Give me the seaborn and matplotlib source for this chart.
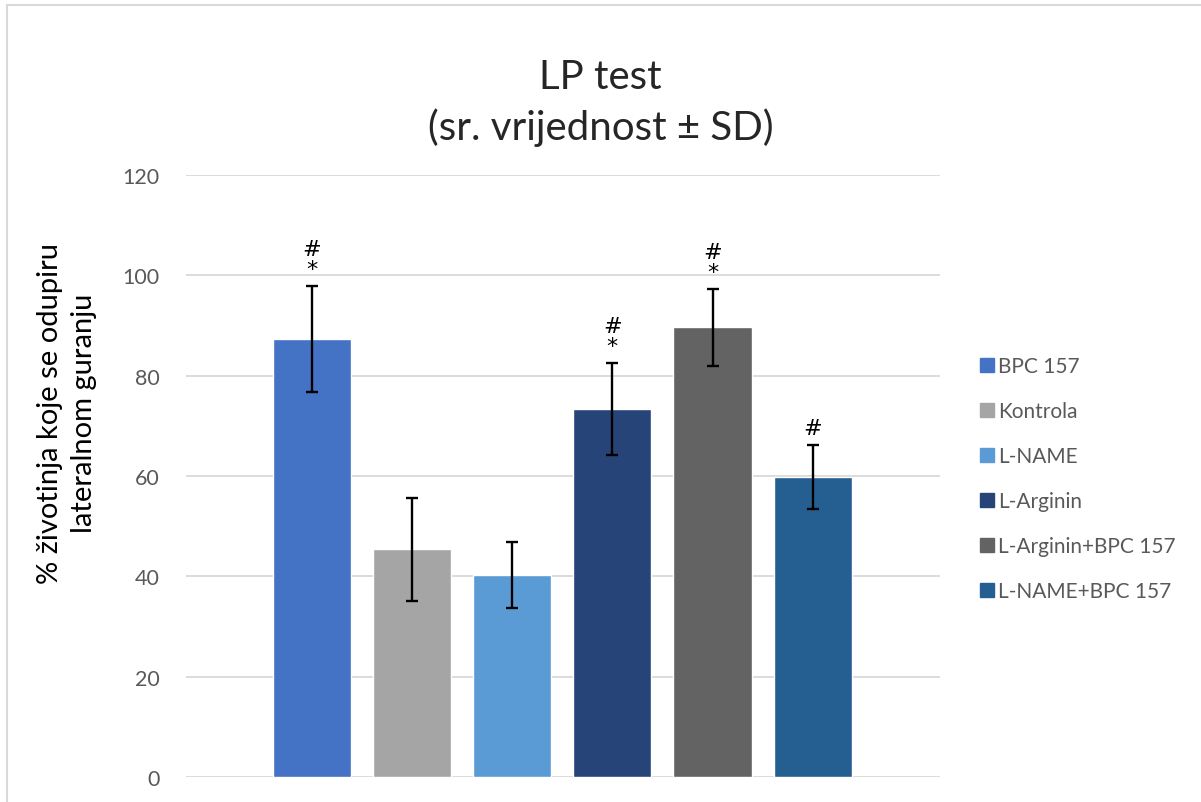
import matplotlib
matplotlib.use("Agg")
import matplotlib.pyplot as plt
import seaborn as sns
import pandas as pd
from matplotlib.lines import Line2D

# ── Data ──────────────────────────────────────────────────────────────────────
groups = ["BPC 157", "Kontrola", "L-NAME", "L-Arginin", "L-Arginin+BPC 157", "L-NAME+BPC 157"]
means = [87.3, 45.4, 40.3, 73.3, 89.6, 59.8]
sds = [10.6, 10.3, 6.6, 9.2, 7.6, 6.4]
marks = ["#\n*", "", "", "#\n*", "#\n*", "#"]
colors = ["#4472C4", "#A5A5A5", "#5B9BD5", "#264478", "#636363", "#255E91"]

df = pd.DataFrame({"grupa": groups, "vrijednost": means})

# ── Style ─────────────────────────────────────────────────────────────────────
sns.set_theme(style="white")
plt.rcParams["font.family"] = ["Lato", "DejaVu Sans"]

fig = plt.figure(figsize=(12.01, 8.03), dpi=100)
ax = fig.add_axes([0.155, 0.031, 0.628, 0.750])

sns.barplot(data=df, x="grupa", y="vrijednost", hue="grupa", palette=colors,
            width=0.78, dodge=False, saturation=1, legend=False, ax=ax, zorder=2)
ax.errorbar(range(len(groups)), means, yerr=sds, fmt="none", ecolor="black",
            elinewidth=1.7, capsize=4.5, capthick=1.7, zorder=3)

for i, (m, s, t) in enumerate(zip(means, sds, marks)):
    if t:
        ax.annotate(t, (i, m + s), xytext=(0, 5), textcoords="offset points",
                    ha="center", va="bottom", fontsize=16, linespacing=1.0,
                    family="DejaVu Sans", color="black")

ax.set_ylim(0, 120)
ax.set_xlim(-1.255, 6.275)
ax.set_yticks(range(0, 121, 20))
ax.yaxis.grid(True, color="#D9D9D9", lw=1.3)
ax.set_axisbelow(True)
ax.set_xticks([])
ax.set_xlabel("")
ax.set_ylabel("% životinja koje se odupiru\nlateralnom guranju", fontsize=21,
              color="black", linespacing=1.4)
ax.yaxis.set_label_coords(-0.118, 0.606)
ax.tick_params(axis="y", labelsize=15.5, labelcolor="#595959", length=0, pad=19)
for sp in ax.spines.values():
    sp.set_visible(False)

fig.text(0.5, 0.872, "LP test\n(sr. vrijednost ± SD)", ha="center", va="center",
         fontsize=29, linespacing=1.4)

# legend
handles = [Line2D([0], [0], marker="s", ls="none", markersize=10,
                  markerfacecolor=c, markeredgecolor=c) for c in colors]
leg = fig.legend(handles, groups, loc="upper left", bbox_to_anchor=(0.798, 0.579),
                 frameon=False, fontsize=15, labelspacing=1.2,
                 handletextpad=0.1, handlelength=0.9)
for t in leg.get_texts():
    t.set_color("#595959")

# chart frame
fig.add_artist(Line2D([0.006, 1.0], [0.992, 0.992], color="#D9D9D9", lw=1.5))
fig.add_artist(Line2D([0.006, 0.006], [0.0, 0.992], color="#D9D9D9", lw=1.5))

fig.savefig("out.png", dpi=100)
